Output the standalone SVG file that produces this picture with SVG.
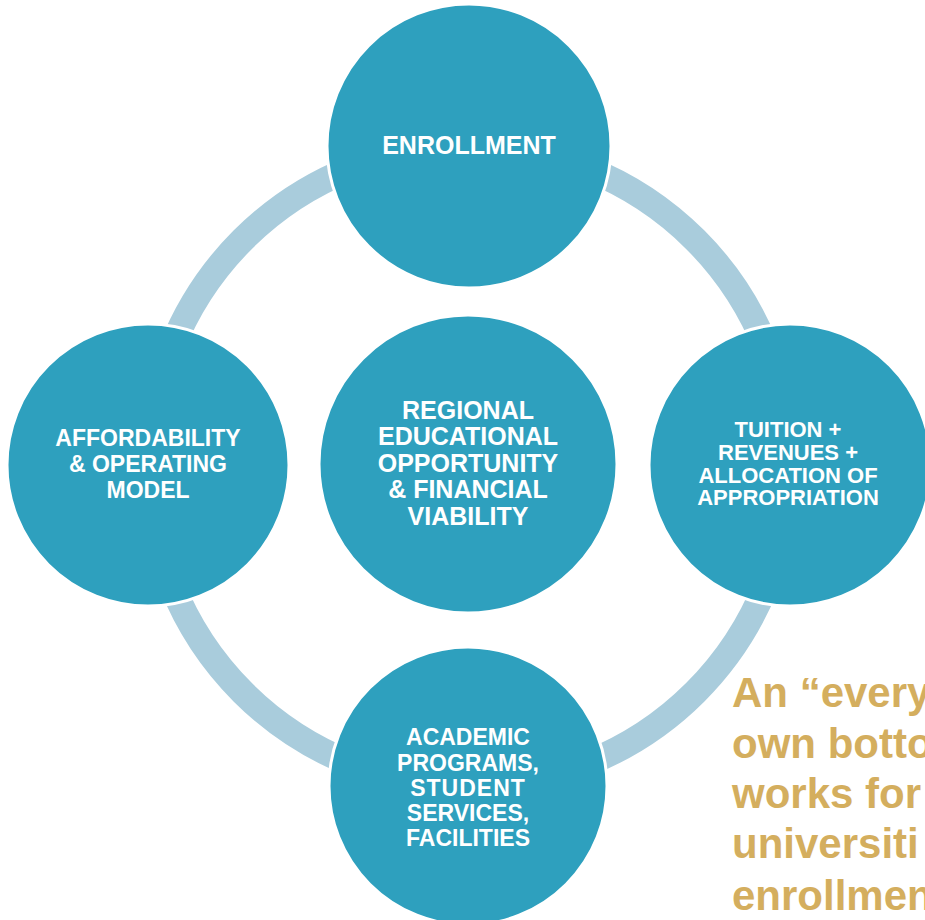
<svg xmlns="http://www.w3.org/2000/svg" width="925" height="920" viewBox="0 0 925 920">
<style>
.node{fill:#2EA0BE;stroke:#FFFFFF;stroke-width:3}
.lbl{font-family:"Liberation Sans",Arial,sans-serif;font-weight:bold;fill:#FFFFFF;text-anchor:middle}
.ring{fill:none;stroke:#A9CCDC;stroke-width:26}
.note{font-family:"Liberation Sans",Arial,sans-serif;font-weight:bold;fill:#D4AE5E;font-size:42px}
</style>
<rect width="925" height="920" fill="#FFFFFF"/>
<g id="connectors">
<circle class="ring" cx="469" cy="466" r="320"/>
</g>
<g id="enrollment">
<circle class="node" cx="469" cy="146" r="142"/>
<text class="lbl" x="469" y="154" font-size="25">ENROLLMENT</text>
</g>
<g id="affordability">
<circle class="node" cx="148" cy="465" r="141"/>
<text class="lbl" font-size="23"><tspan x="148" y="446">AFFORDABILITY</tspan><tspan x="148" y="472">&amp; OPERATING</tspan><tspan x="148" y="498">MODEL</tspan></text>
</g>
<g id="tuition">
<circle class="node" cx="790" cy="465" r="141"/>
<text class="lbl" font-size="22"><tspan x="788" y="437">TUITION +</tspan><tspan x="788" y="460">REVENUES +</tspan><tspan x="788" y="483">ALLOCATION OF</tspan><tspan x="788" y="505">APPROPRIATION</tspan></text>
</g>
<g id="academic">
<circle class="node" cx="468" cy="786" r="139"/>
<text class="lbl" font-size="23"><tspan x="468" y="745">ACADEMIC</tspan><tspan x="468" y="771">PROGRAMS,</tspan><tspan x="468" y="796" letter-spacing="1">STUDENT</tspan><tspan x="468" y="821">SERVICES,</tspan><tspan x="468" y="846">FACILITIES</tspan></text>
</g>
<g id="center">
<circle class="node" cx="468" cy="464" r="149"/>
<text class="lbl" font-size="25"><tspan x="468" y="419">REGIONAL</tspan><tspan x="468" y="445">EDUCATIONAL</tspan><tspan x="468" y="472">OPPORTUNITY</tspan><tspan x="468" y="498">&amp; FINANCIAL</tspan><tspan x="468" y="525">VIABILITY</tspan></text>
</g>
<g id="note">
<text class="note"><tspan x="732" y="707">An “every</tspan><tspan x="732" y="758">own botto</tspan><tspan x="732" y="808">works for</tspan><tspan x="732" y="858">universiti</tspan><tspan x="732" y="910">enrollmen</tspan></text>
</g>
</svg>
